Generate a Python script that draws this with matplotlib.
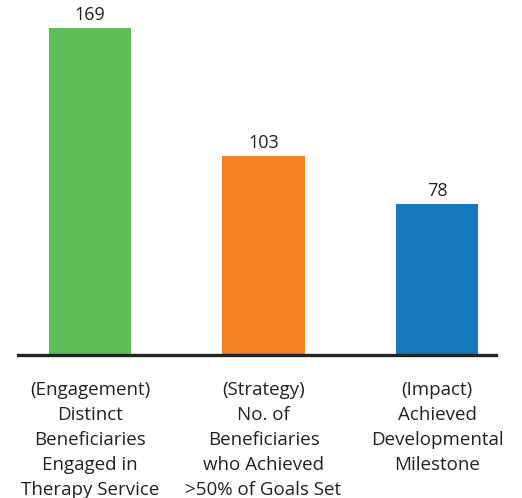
import matplotlib
matplotlib.use("Agg")
import matplotlib.pyplot as plt

categories = ["(Engagement)\nDistinct\nBeneficiaries\nEngaged in\nTherapy Service",
              "(Strategy)\nNo. of\nBeneficiaries\nwho Achieved\n>50% of Goals Set",
              "(Impact)\nAchieved\nDevelopmental\nMilestone"]
values = [169, 103, 78]
colors = ["#5cbd59", "#f58220", "#1479bd"]

plt.rcParams['font.family'] = ['Open Sans', 'DejaVu Sans']

fig = plt.figure(figsize=(5.22, 4.98), dpi=100)
ax = fig.add_axes([18/522, (498-355)/498, (496-18)/522, 355/498])

x = list(range(len(values)))
bars = ax.bar(x, values, width=0.473, color=colors, zorder=2)
ax.set_xlim(-0.415, 2.34)
ax.set_ylim(0, 183.5)

for xi, v in zip(x, values):
    ax.annotate(str(v), (xi, v), xytext=(0, 3), textcoords="offset points",
                ha="center", va="bottom", fontsize=13, color="#222222")

for xi, lab in zip(x, categories):
    ax.annotate(lab, (xi, 0), xytext=(0, -19), textcoords="offset points",
                ha="center", va="top", fontsize=13.5, color="#222222",
                linespacing=1.5)

for s in ["top", "right", "left"]:
    ax.spines[s].set_visible(False)
ax.spines["bottom"].set_linewidth(2.4)
ax.spines["bottom"].set_color("#222222")
ax.set_xticks([])
ax.set_yticks([])

fig.savefig("out.png", dpi=100)
